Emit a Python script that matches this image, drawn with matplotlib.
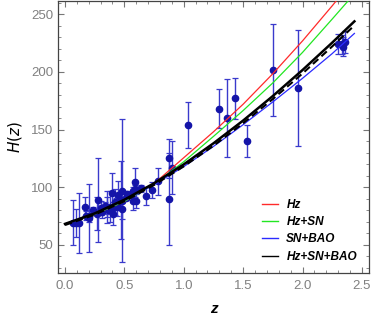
import matplotlib
matplotlib.use("Agg")
import matplotlib.pyplot as plt
from matplotlib.lines import Line2D
from matplotlib.ticker import MultipleLocator

plt.rcParams['font.family'] = ['Liberation Sans', 'DejaVu Sans']

# Observational H(z) data (z, H, sigma)
z_data = [0.070, 0.090, 0.120, 0.170, 0.179, 0.199, 0.200, 0.270, 0.280, 0.352,
          0.3802, 0.400, 0.4004, 0.4247, 0.4497, 0.470, 0.4783, 0.480, 0.593, 0.6797,
          0.7812, 0.8754, 0.880, 0.900, 1.037, 1.300, 1.363, 1.430, 1.530, 1.750,
          1.965,
          0.24, 0.30, 0.31, 0.34, 0.35, 0.36, 0.38, 0.40, 0.43, 0.44,
          0.44, 0.48, 0.51, 0.52, 0.56, 0.57, 0.57, 0.59, 0.60, 0.61,
          0.64, 0.73, 2.30, 2.33, 2.34, 2.36]
H_data = [69, 69, 68.6, 83, 75, 75, 72.9, 77, 88.8, 83,
          83, 95, 77, 87.1, 92.8, 89, 80.9, 97, 104, 92,
          105, 125, 90, 117, 154, 168, 160, 177, 140, 202,
          186.5,
          79.69, 81.7, 78.18, 83.8, 82.7, 79.94, 81.5, 82.04, 86.45, 82.6,
          84.81, 87.79, 90.4, 94.35, 93.34, 87.6, 96.8, 98.48, 87.9, 97.3,
          98.82, 97.3, 224, 224, 222, 226]
H_err = [19.6, 12, 26.2, 8, 4, 5, 29.6, 14, 36.6, 14,
         13.5, 17, 10.2, 11.2, 12.9, 34, 9, 62, 13, 8,
         12, 17, 40, 23, 20, 17, 33.6, 18, 14, 40,
         50.4,
         2.99, 6.22, 4.74, 3.66, 8.4, 3.38, 1.9, 2.03, 3.97, 7.8,
         1.83, 2.03, 1.9, 2.64, 2.3, 7.8, 3.4, 3.18, 6.1, 2.1,
         2.98, 7.0, 8.6, 8, 8.5, 9.3]

# Best-fit curves
z_curve = [0.0, 0.25, 0.5, 0.75, 1.0, 1.25, 1.5, 1.75, 2.0, 2.25, 2.437]
H_Hz = [68, 76.5, 87.5, 103, 125.5, 148, 172, 198.5, 227, 257.5, 281]
H_HzSN = [68, 76.5, 87.5, 102.5, 122, 144, 166.5, 190.5, 217, 246, 268]
H_SNBAO = [68, 76.8, 88.2, 102, 117.8, 135.3, 154.2, 174, 194.5, 216, 233.5]
H_all = [68, 77.1, 89.0, 103.3, 119.7, 138.0, 157.8, 179.1, 201.7, 225.5, 244]
H_lcdm = [67, 76.0, 87.7, 101.8, 118.0, 135.9, 155.5, 176.5, 198.7, 222.2, 240.5]

labels = ['Hz', 'Hz+SN', 'SN+BAO', 'Hz+SN+BAO']
colors = ['#ff2a2a', '#22e622', '#2a2aff', '#000000']

fig = plt.figure(figsize=(3.74, 3.19), dpi=100)
ax = fig.add_axes([0.155, 0.143, 0.832, 0.855])

ax.errorbar(z_data, H_data, yerr=H_err, fmt='o', color='#1414a8', ms=4.5,
            ecolor='#3a3acc', elinewidth=1.0, capsize=2, capthick=0.9, zorder=2)

ax.plot(z_curve, H_Hz, color=colors[0], lw=0.9, zorder=3)
ax.plot(z_curve, H_HzSN, color=colors[1], lw=0.9, zorder=3)
ax.plot(z_curve, H_SNBAO, color=colors[2], lw=0.9, zorder=3)
ax.plot(z_curve, H_all, color=colors[3], lw=1.8, zorder=4)
ax.plot(z_curve, H_lcdm, color='black', lw=1.5, ls=(0, (3.5, 2)), zorder=4)

ax.set_xlim(-0.059, 2.561)
ax.set_ylim(25, 262)

ax.xaxis.set_major_locator(MultipleLocator(0.5))
ax.xaxis.set_minor_locator(MultipleLocator(0.1))
ax.yaxis.set_major_locator(MultipleLocator(50))
ax.yaxis.set_minor_locator(MultipleLocator(10))
ax.xaxis.set_major_formatter(matplotlib.ticker.FormatStrFormatter('%.1f'))

ax.tick_params(which='both', direction='in', top=True, right=True,
               colors='#777777', labelcolor='#808080', labelsize=9.5)
ax.tick_params(axis='x', which='major', pad=5)
ax.tick_params(which='major', length=4, width=0.8)
ax.tick_params(which='minor', length=2, width=0.6)
for s in ax.spines.values():
    s.set_color('#444444')
    s.set_linewidth(0.9)

ax.set_xlabel('z', fontsize=11, fontweight='bold', fontstyle='italic', labelpad=7)
ax.set_ylabel(r'$\mathit{H}(\mathit{z})$', fontsize=11, labelpad=5)

handles = [Line2D([0], [0], color=c, lw=1.0) for c in colors]
leg = ax.legend(handles, labels, loc='lower right', bbox_to_anchor=(0.995, 0.0),
                frameon=False, handlelength=1.4, handletextpad=0.7,
                labelspacing=0.45, prop={'weight': 'bold', 'style': 'italic', 'size': 8.5})

fig.savefig('out.png', dpi=100)
